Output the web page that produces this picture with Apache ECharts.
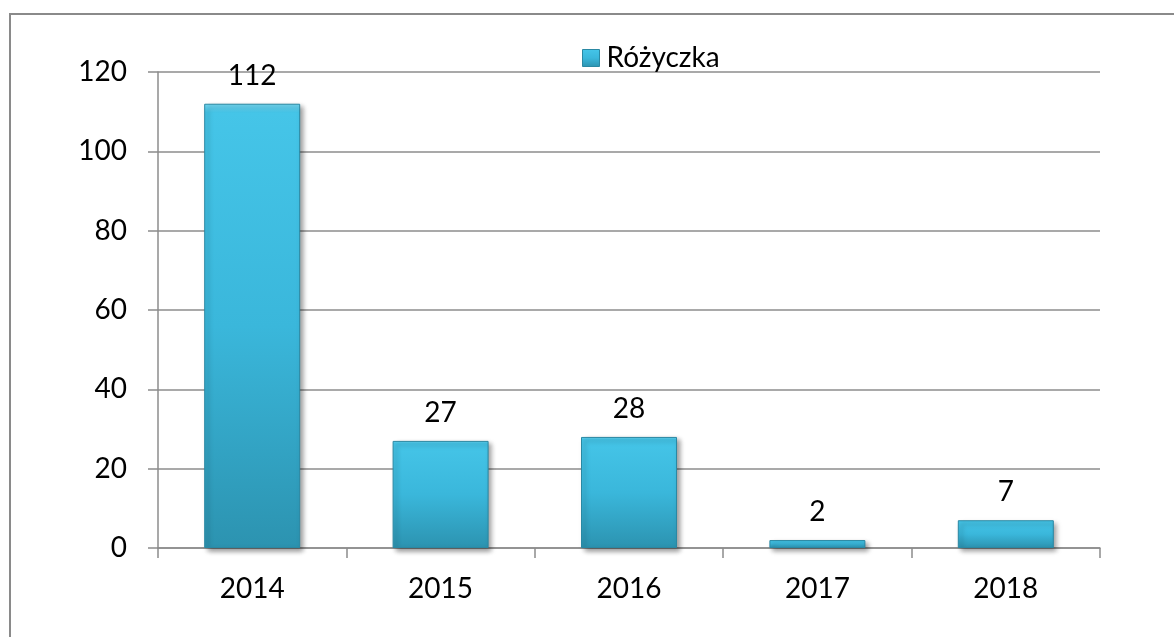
<!DOCTYPE html>
<html>
<head>
<meta charset="utf-8">
<script src="https://cdn.jsdelivr.net/npm/echarts@6/dist/echarts.min.js"></script>
<style>
html,body{margin:0;padding:0;background:#fff;}
#c{width:1174px;height:637px;}
</style>
</head>
<body>
<div id="c"></div>
<script>
const categories = ['2014', '2015', '2016', '2017', '2018'];
const seriesName = 'Różyczka';
const values = [112, 27, 28, 2, 7];
const yTicks = [0, 20, 40, 60, 80, 100, 120];

const FONT = 'Lato';
const FS = 28;
const chart = echarts.init(document.getElementById('c'), null, {renderer: 'canvas'});
const barColor = new echarts.graphic.LinearGradient(0, 0, 0, 1, [
  {offset: 0, color: '#74d8f2'},
  {offset: 0.02, color: '#45c5e8'},
  {offset: 0.5, color: '#3ab7db'},
  {offset: 1, color: '#2c93b0'}
]);
chart.setOption({
  animation: false,
  textStyle: {fontFamily: FONT},
  graphic: [{
    type: 'rect',
    shape: {x: 10, y: 14, width: 2000, height: 2000},
    style: {fill: 'none', stroke: '#8a8a8a', lineWidth: 2},
    silent: true
  }],
  legend: {
    data: [{name: seriesName, icon: 'rect'}],
    left: 577,
    top: 39,
    itemWidth: 17,
    itemHeight: 17,
    itemStyle: {borderColor: '#2a88a3', borderWidth: 1},
    textStyle: {fontFamily: FONT, fontSize: FS, color: '#000', padding: [0, 0, 0, 2]}
  },
  grid: {left: 158, right: 74, top: 72, bottom: 89},
  xAxis: {
    type: 'category',
    data: categories,
    axisLine: {lineStyle: {color: '#8c8c8c', width: 1.5}},
    axisTick: {show: true, length: 10, lineStyle: {color: '#8c8c8c', width: 1.5}},
    axisLabel: {fontFamily: FONT, fontSize: FS, color: '#000', margin: 27}
  },
  yAxis: {
    type: 'value',
    min: yTicks[0],
    max: yTicks[yTicks.length - 1],
    interval: 20,
    axisLine: {show: true, lineStyle: {color: '#8c8c8c', width: 1.5}},
    axisTick: {show: true, length: 10, lineStyle: {color: '#8c8c8c', width: 1.5}},
    axisLabel: {fontFamily: FONT, fontSize: FS, color: '#000', margin: 31},
    splitLine: {lineStyle: {color: '#8c8c8c', width: 1.5}}
  },
  series: [{
    name: seriesName,
    type: 'bar',
    data: values,
    barWidth: 96,
    itemStyle: {
      color: barColor,
      borderColor: '#2a88a3',
      borderWidth: 1,
      shadowColor: 'rgba(0,0,0,0.4)',
      shadowBlur: 5,
      shadowOffsetX: 3,
      shadowOffsetY: 3
    },
    label: {
      show: true,
      position: 'top',
      distance: 14,
      fontFamily: FONT,
      fontSize: FS,
      color: '#000'
    }
  }]
});
</script>
</body>
</html>
